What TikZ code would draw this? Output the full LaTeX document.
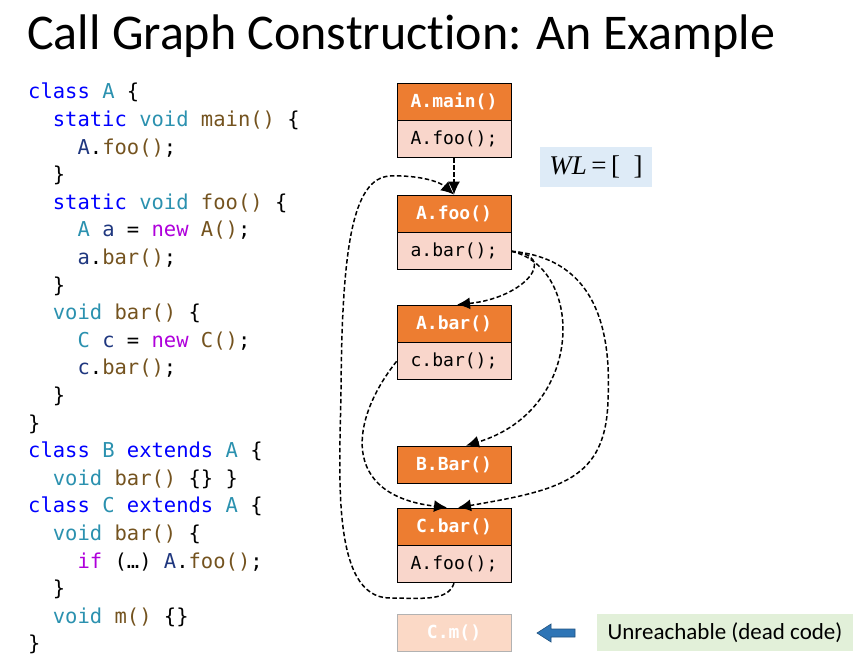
\documentclass[tikz,border=0pt]{standalone}
\usepackage{fontspec}
\setmainfont{Carlito}[Ligatures=NoCommon]
\setmonofont{DejaVu Sans Mono}
\newfontfamily\wlfont{Liberation Serif}
\usetikzlibrary{arrows.meta,positioning}
\definecolor{hdrorange}{HTML}{ED7D31}
\definecolor{bodypink}{HTML}{F9D6CB}
\definecolor{deadpink}{HTML}{FBD9C6}
\definecolor{wlblue}{HTML}{DEEBF7}
\definecolor{notegreen}{HTML}{E2F0D9}
\definecolor{arrowblue}{HTML}{2E75B6}
\definecolor{kwblue}{HTML}{0000FF}
\definecolor{tyteal}{HTML}{2B91AF}
\definecolor{fnbrown}{HTML}{74531F}
\definecolor{idnavy}{HTML}{1F377F}
\definecolor{ctlpurple}{HTML}{AF00DB}
\newcommand{\ckw}[1]{\textcolor{kwblue}{#1}}
\newcommand{\cty}[1]{\textcolor{tyteal}{#1}}
\newcommand{\cfn}[1]{\textcolor{fnbrown}{#1}}
\newcommand{\cid}[1]{\textcolor{idnavy}{#1}}
\newcommand{\cctl}[1]{\textcolor{ctlpurple}{#1}}
\newcommand{\cind}{\phantom{xx}}
\tikzset{
  hdr/.style={draw=black,line width=0.8pt,fill=hdrorange,text=white,
    font=\ttfamily\bfseries\fontsize{18}{20}\selectfont,
    minimum width=114pt,minimum height=37pt,inner sep=0pt},
  body/.style={hdr,fill=bodypink,text=black,font=\ttfamily\fontsize{18}{20}\selectfont},
  dead/.style={hdr,draw=black!30,fill=deadpink},
  call/.style={dashed,dash pattern=on 4.5pt off 2.5pt,line width=1.5pt,
    -{Latex[length=13pt,width=12pt]}}
}
\begin{document}
\begin{tikzpicture}[x=1pt,y=-1pt]
\useasboundingbox (0,0) rectangle (866,671);
\node[anchor=base west,inner sep=0pt,font=\fontsize{50}{56}\selectfont] (title) at (27,50) {Call Graph Construct\kern0pt ion: An Example};
\node[anchor=north west,align=left,inner sep=0pt,font=\ttfamily\fontsize{20.5}{27.6}\selectfont] (code) at (28,83) {%
\ckw{class} \cty{A} \{\\
\cind\ckw{static} \cty{void} \cfn{main()} \{\\
\cind\cind\cid{A}.\cfn{foo()};\\
\cind\}\\
\cind\ckw{static} \cty{void} \cfn{foo()} \{\\
\cind\cind\cty{A} \cid{a} = \cctl{new} \cfn{A()};\\
\cind\cind\cid{a}.\cfn{bar()};\\
\cind\}\\
\cind\cty{void} \cfn{bar()} \{\\
\cind\cind\cty{C} \cid{c} = \cctl{new} \cfn{C()};\\
\cind\cind\cid{c}.\cfn{bar()};\\
\cind\}\\
\}\\
\ckw{class} \cty{B} \ckw{extends} \cty{A} \{\\
\cind\cty{void} \cfn{bar()} \{\} \}\\
\ckw{class} \cty{C} \ckw{extends} \cty{A} \{\\
\cind\cty{void} \cfn{bar()} \{\\
\cind\cind\cctl{if} (…) \cid{A}.\cfn{foo()};\\
\cind\}\\
\cind\cty{void} \cfn{m()} \{\}\\
\}};
\node[hdr] (mainH) at (454,101.5) {A.main()};
\node[body,below=0pt of mainH] (mainB) {A.foo();};
\node[hdr] (fooH) at (454,213.5) {A.foo()};
\node[body,below=0pt of fooH] (fooB) {a.bar();};
\node[hdr] (barAH) at (454,323.5) {A.bar()};
\node[body,below=0pt of barAH] (barAB) {c.bar();};
\node[hdr] (barBH) at (454,464.5) {B.Bar()};
\node[hdr] (barCH) at (454,526.5) {C.bar()};
\node[body,below=0pt of barCH] (barCB) {A.foo();};
\node[dead] (mC) at (454,632.5) {C.m()};
\node[fill=wlblue,minimum width=112pt,minimum height=40pt,inner sep=0pt,
  font=\wlfont\fontsize{27}{30}\selectfont] (wl) at (596,167) {\textit{WL}\,=\,[\enspace]};
\node[fill=notegreen,minimum width=256pt,minimum height=37pt,inner sep=0pt,
  font=\fontsize{23}{27}\selectfont] (note) at (725,632.5) {Unreachable (dead code)};
\fill[arrowblue,draw=arrowblue!70!black,line width=0.6pt] (537,633) -- (551,624) -- (551,629) -- (575,629)
  -- (575,637) -- (551,637) -- (551,642) -- cycle;
\draw[call] (mainB) -- (fooH);
\draw[call] (barCB.south) .. controls (448,602) and (420,598) .. (390,598)
  .. controls (330,598) and (340,470) .. (341,390)
  .. controls (342,250) and (352,178) .. (390,176)
  .. controls (420,175) and (440,182) .. (fooH.north);
\draw[call] (fooB.east) .. controls (560,255) and (525,298) .. ([xshift=3pt]barAH.north);
\draw[call] (fooB.east) .. controls (585,268) and (585,410) .. ([xshift=12pt]barBH.north);
\draw[call] (fooB.east) .. controls (590,258) and (612,320) .. (608,400)
  .. controls (606,480) and (560,490) .. ([xshift=4pt]barCH.north);
\draw[call] (barAB.west) .. controls (350,420) and (340,495) .. ([xshift=-7pt]barCH.north);
\end{tikzpicture}
\end{document}
